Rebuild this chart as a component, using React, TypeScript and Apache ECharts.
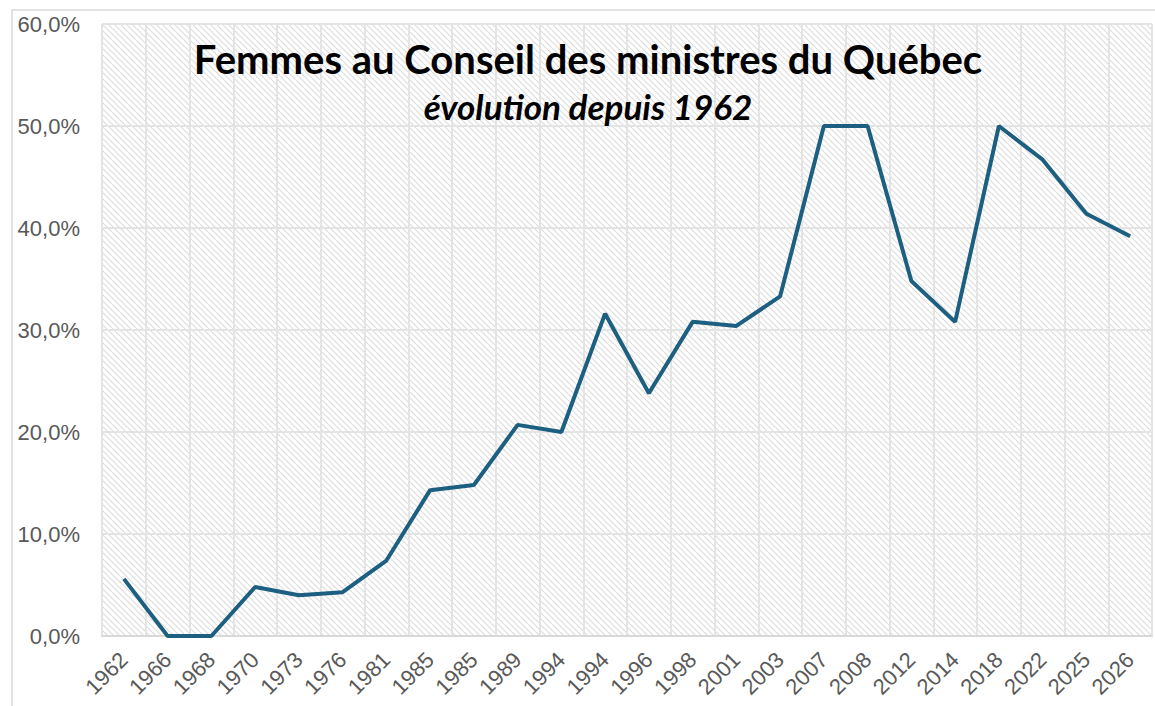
import React, { useEffect, useRef } from "react";
import * as echarts from "echarts";

const years = ["1962","1966","1968","1970","1973","1976","1981","1985","1985","1989","1994","1994","1996","1998","2001","2003","2007","2008","2012","2014","2018","2022","2025","2026"];
const womenShare = [5.6,0,0,4.8,4.0,4.3,7.4,14.3,14.8,20.7,20.0,31.6,23.8,30.8,30.4,33.3,50.0,50.0,34.8,30.8,50.0,46.7,41.4,39.2];
const titleText = "Femmes au Conseil des ministres du Québec";
const subtitleText = "évolution depuis 1962";

function makeHatch(): HTMLCanvasElement {
  const s = 6;
  const c = document.createElement("canvas");
  c.width = s;
  c.height = s;
  const ctx = c.getContext("2d")!;
  ctx.fillStyle = "#ffffff";
  ctx.fillRect(0, 0, s, s);
  ctx.strokeStyle = "#dcdcdc";
  ctx.lineWidth = 1.1;
  ctx.beginPath();
  ctx.moveTo(-1, -1); ctx.lineTo(s + 1, s + 1);
  ctx.moveTo(-1, s - 1); ctx.lineTo(1, s + 1);
  ctx.moveTo(s - 1, -1); ctx.lineTo(s + 1, 1);
  ctx.stroke();
  return c;
}

export default function App() {
  const ref = useRef<HTMLDivElement>(null);
  useEffect(() => {
    if (!ref.current) return;
    const chart = echarts.init(ref.current, null, { renderer: "svg" });
    const hatch = makeHatch();
    chart.setOption({
      animation: false,
      backgroundColor: "#ffffff",
      grid: {
        left: 102, top: 24, right: 3, bottom: 70,
        show: true,
        backgroundColor: { image: hatch, repeat: "repeat", imageWidth: 6, imageHeight: 6 },
        borderColor: "#dcdcdc",
        borderWidth: 1,
      },
      graphic: [
        { type: "rect", shape: { x: 12, y: 10, width: 1300, height: 900 }, style: { fill: "none", stroke: "#d9d9d9", lineWidth: 1.5 }, z: 100, silent: true },
        { type: "text", x: 588, y: 59, style: { text: titleText, font: "bold 40px Lato", fill: "#000000", textAlign: "center", textVerticalAlign: "middle" }, z: 100 },
        { type: "text", x: 588, y: 106, style: { text: subtitleText, font: "italic bold 35px Lato", fill: "#000000", textAlign: "center", textVerticalAlign: "middle" }, z: 100 },
      ],
      xAxis: {
        type: "category",
        data: years,
        boundaryGap: true,
        axisTick: { show: false },
        axisLine: { lineStyle: { color: "#d9d9d9", width: 2 } },
        splitLine: { show: true, interval: 0, lineStyle: { color: "#e4e4e4", width: 2 } },
        axisLabel: { interval: 0, rotate: 45, margin: 20, color: "#595959", fontSize: 22, fontFamily: "Liberation Sans" },
      },
      yAxis: {
        type: "value",
        min: 0, max: 60, interval: 10,
        axisLine: { show: false },
        axisTick: { show: false },
        splitLine: { lineStyle: { color: "#e4e4e4", width: 2 } },
        axisLabel: {
          margin: 22, color: "#595959", fontSize: 22, fontFamily: "Liberation Sans",
          formatter: (v: number) => v.toFixed(1).replace(".", ",") + "%",
        },
      },
      series: [
        {
          type: "line",
          data: womenShare,
          symbol: "none",
          lineStyle: { color: "#1c5f80", width: 4 },
        },
      ],
    });
    return () => chart.dispose();
  }, []);
  return <div ref={ref} style={{ position: "fixed", left: 0, top: 0, width: 1155, height: 706 }} />;
}
